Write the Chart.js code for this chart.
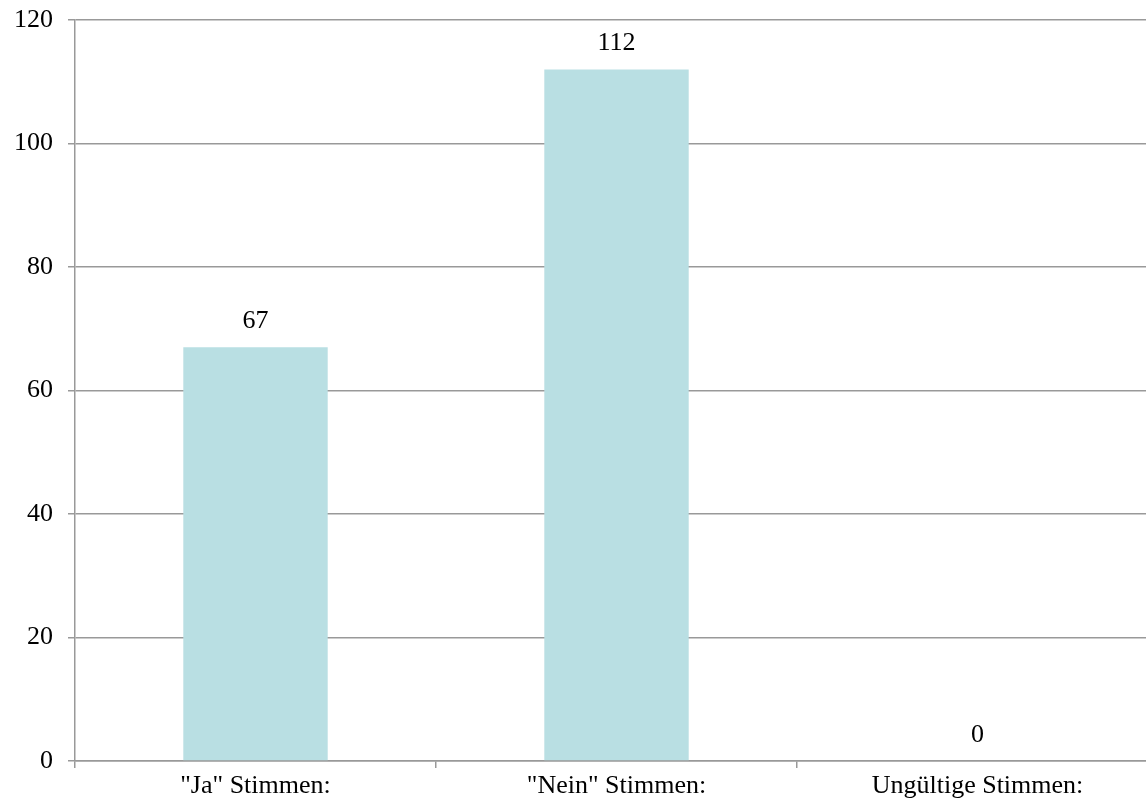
<!DOCTYPE html>
<html>
<head>
<meta charset="utf-8">
<script src="https://cdn.jsdelivr.net/npm/chart.js@4/dist/chart.umd.min.js"></script>
<style>
  html, body { margin: 0; padding: 0; background: #fff; overflow: hidden; }
  #wrap { width: 1158px; height: 806px; }
</style>
</head>
<body>
<div id="wrap"><canvas id="chart"></canvas></div>
<script>
// DATA
const kategorien = ['"Ja" Stimmen:', '"Nein" Stimmen:', 'Ungültige Stimmen:'];
const stimmen = [67, 112, 0];
const yTicks = [0, 20, 40, 60, 80, 100, 120];

const schrift = { family: "'Liberation Serif'", size: 26 };

// VALUE LABELS
const wertLabels = {
    id: "wertLabels",
    afterDatasetsDraw(chart) {
        const ctx = chart.ctx;
        const meta = chart.getDatasetMeta(0);
        ctx.save();
        ctx.font = "26px 'Liberation Serif'";
        ctx.fillStyle = "#000";
        ctx.textAlign = "center";
        ctx.textBaseline = "middle";
        meta.data.forEach((bar, i) => {
            ctx.fillText(String(stimmen[i]), bar.x, bar.y - 26);
        });
        ctx.restore();
    }
};

new Chart(document.getElementById("chart"), {
    type: "bar",
    data: {
        labels: kategorien,
        datasets: [{
            data: stimmen,
            backgroundColor: "#b9dfe3",
            barPercentage: 0.4,
            categoryPercentage: 1
        }]
    },
    options: {
        responsive: true,
        maintainAspectRatio: false,
        animation: false,
        layout: { padding: { top: 20, right: 0, left: 0, bottom: 0 } },
        plugins: { legend: { display: false }, tooltip: { enabled: false } },
        scales: {
            x: {
                afterFit(axis) {
                    axis.height = 45;
                    axis.paddingLeft = 0;
                    axis.paddingRight = 0;
                },
                grid: {
                    offset: true,
                    drawOnChartArea: false,
                    color: "#999",
                    lineWidth: 1.5,
                    tickLength: 7
                },
                border: { color: "#999", width: 1.5 },
                ticks: {
                    color: "#000",
                    font: schrift,
                    maxRotation: 0,
                    padding: 3
                }
            },
            y: {
                min: 0,
                max: 120,
                afterFit(axis) {
                    axis.width = 75;
                    axis.paddingTop = 0;
                    axis.paddingBottom = 0;
                },
                afterBuildTicks(axis) {
                    axis.ticks = yTicks.map(v => ({ value: v }));
                },
                grid: {
                    color: "#999",
                    lineWidth: 1.5,
                    tickLength: 7
                },
                border: { color: "#999", width: 1.5 },
                ticks: {
                    color: "#000",
                    font: schrift,
                    padding: 15
                }
            }
        }
    },
    plugins: [wertLabels]
});
</script>
</body>
</html>
